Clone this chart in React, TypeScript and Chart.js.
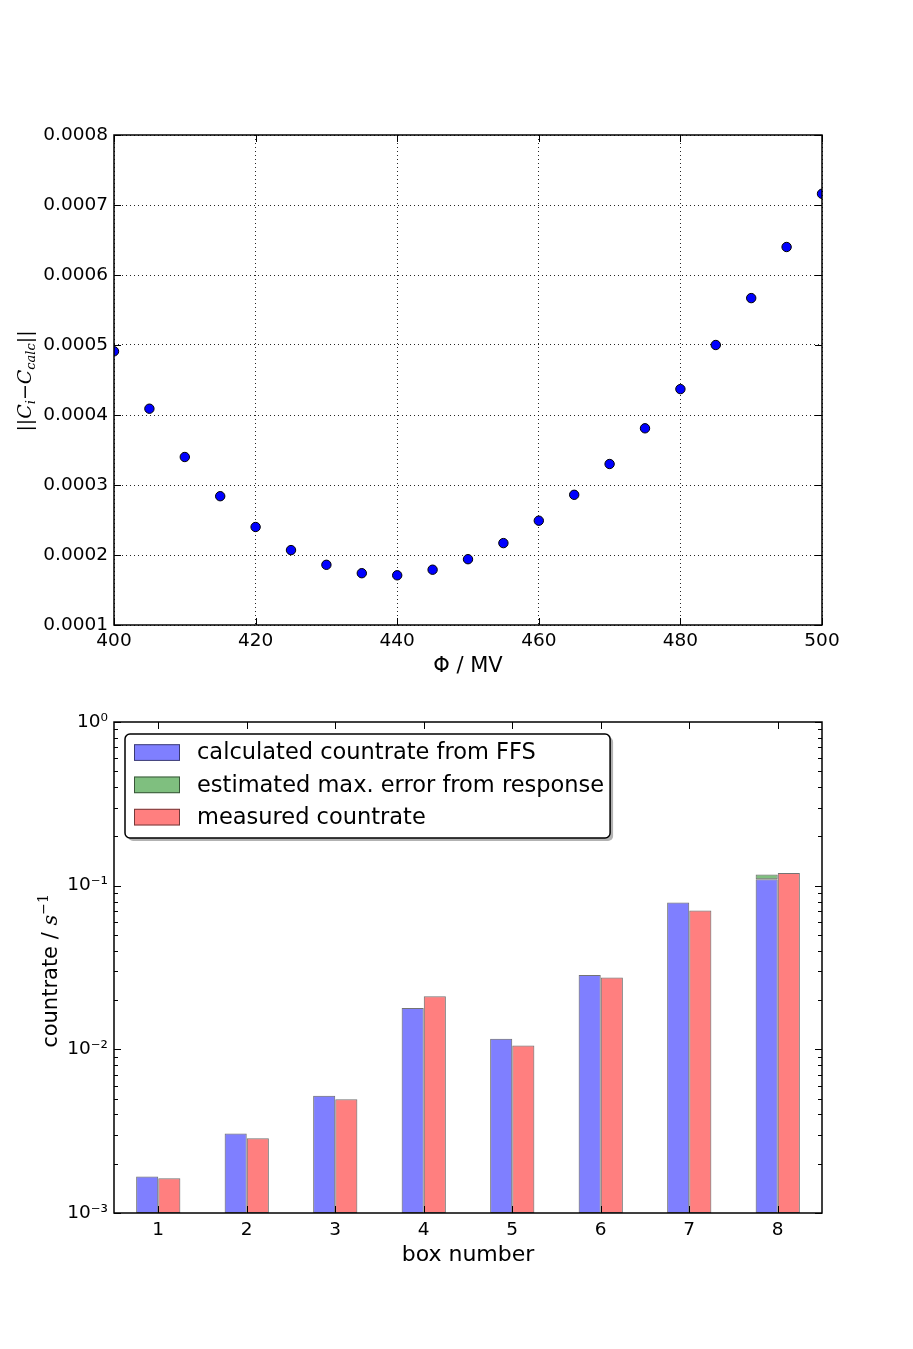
import React, { useEffect, useRef } from "react";
import { Chart, registerables } from "chart.js";

Chart.register(...registerables);

const FONT = '"DejaVu Sans", sans-serif';
const SERIF = '"DejaVu Serif", serif';

// ---------- top chart data ----------
const phiValues = [400, 405, 410, 415, 420, 425, 430, 435, 440, 445, 450, 455, 460, 465, 470, 475, 480, 485, 490, 495, 500];
const residualNorm = [
  0.000491, 0.000409, 0.00034, 0.000284, 0.00024, 0.000207, 0.000186, 0.000174, 0.000171, 0.000179,
  0.000194, 0.000217, 0.000249, 0.000286, 0.00033, 0.000381, 0.000437, 0.0005, 0.000567, 0.00064, 0.000716,
];
const phiTicks = [400, 420, 440, 460, 480, 500];
const residualTicks = [0.0001, 0.0002, 0.0003, 0.0004, 0.0005, 0.0006, 0.0007, 0.0008];

// ---------- bottom chart data ----------
const boxNumbers = ["1", "2", "3", "4", "5", "6", "7", "8"];
const calculatedRate = [0.00167, 0.00306, 0.0052, 0.0179, 0.0116, 0.0285, 0.079, 0.1095];
const responseError = [null, null, null, null, null, null, null, 0.0075];
const measuredRate = [0.00163, 0.00286, 0.00496, 0.0211, 0.01055, 0.0275, 0.0705, 0.1195];
const rateTickValues = [0.001, 0.01, 0.1, 1];
const rateTickLabels = ["10⁻³", "10⁻²", "10⁻¹", "10⁰"];
const rateDecades = [0.001, 0.01, 0.1];
const minorMultipliers = [2, 3, 4, 5, 6, 7, 8, 9];

const legendLabels = [
  "calculated countrate from FFS",
  "estimated max. error from response",
  "measured countrate",
];

const BLUE = "rgba(0,0,255,0.5)";
const GREEN = "rgba(0,128,0,0.5)";
const RED = "rgba(255,0,0,0.5)";
const EDGE = "rgba(0,0,0,0.55)";

Chart.defaults.color = "#000";
Chart.defaults.font.family = FONT;

type Seg = { text: string; font: string; dy?: number };

function drawRotatedSegments(ctx: CanvasRenderingContext2D, segs: Seg[], x: number, y: number) {
  ctx.save();
  ctx.translate(x, y);
  ctx.rotate(-Math.PI / 2);
  let total = 0;
  const widths = segs.map((s) => {
    ctx.font = s.font;
    const w = ctx.measureText(s.text).width;
    total += w;
    return w;
  });
  let cx = -total / 2;
  ctx.textBaseline = "alphabetic";
  ctx.textAlign = "left";
  ctx.fillStyle = "#000";
  segs.forEach((s, i) => {
    ctx.font = s.font;
    ctx.fillText(s.text, cx, s.dy || 0);
    cx += widths[i];
  });
  ctx.restore();
}

const framePlugin = {
  id: "frame",
  afterDraw(chart: any, _args: any, opts: any) {
    const { ctx, chartArea: a } = chart;
    const xs = chart.scales.x;
    const ys = chart.scales.y;
    const major = 7;
    const minor = 4;
    ctx.save();
    ctx.strokeStyle = "#000";
    ctx.lineWidth = 1;
    ctx.beginPath();
    xs.ticks.forEach((_t: any, i: number) => {
      const px = Math.round(xs.getPixelForTick(i)) + 0.5;
      ctx.moveTo(px, a.bottom);
      ctx.lineTo(px, a.bottom - major);
      ctx.moveTo(px, a.top);
      ctx.lineTo(px, a.top + major);
    });
    ys.ticks.forEach((_t: any, i: number) => {
      const py = Math.round(ys.getPixelForTick(i)) + 0.5;
      ctx.moveTo(a.left, py);
      ctx.lineTo(a.left + major, py);
      ctx.moveTo(a.right, py);
      ctx.lineTo(a.right - major, py);
    });
    (opts.yMinor || []).forEach((v: number) => {
      const py = Math.round(ys.getPixelForValue(v)) + 0.5;
      ctx.moveTo(a.left, py);
      ctx.lineTo(a.left + minor, py);
      ctx.moveTo(a.right, py);
      ctx.lineTo(a.right - minor, py);
    });
    ctx.stroke();
    ctx.lineWidth = 1.5;
    ctx.strokeRect(a.left, a.top, a.right - a.left, a.bottom - a.top);
    ctx.restore();
  },
};

const yTitlePlugin = {
  id: "yTitle",
  afterDraw(chart: any, _args: any, opts: any) {
    if (!opts || !opts.segs) return;
    drawRotatedSegments(chart.ctx, opts.segs, opts.x, opts.y);
  },
};

const boxLegendPlugin = {
  id: "boxLegend",
  afterDraw(chart: any, _args: any, opts: any) {
    if (!opts || !opts.items) return;
    const { ctx, chartArea: a } = chart;
    const items = opts.items as { label: string; color: string }[];
    ctx.save();
    ctx.font = `${opts.fontSize}px ${FONT}`;
    const maxW = Math.max(...items.map((it) => ctx.measureText(it.label).width));
    const x = a.left + 11;
    const y = a.top + 12;
    const w = 72 + maxW + 6;
    const h = 104;
    ctx.fillStyle = "rgba(0,0,0,0.3)";
    ctx.beginPath();
    ctx.roundRect(x + 3, y + 3, w, h, 5);
    ctx.fill();
    ctx.fillStyle = "#fff";
    ctx.beginPath();
    ctx.roundRect(x, y, w, h, 5);
    ctx.fill();
    ctx.lineWidth = 1.5;
    ctx.strokeStyle = "#000";
    ctx.stroke();
    items.forEach((it, i) => {
      const cy = y + 18.5 + i * 32.3;
      ctx.fillStyle = it.color;
      ctx.fillRect(x + 9, cy - 8.3, 46, 16.7);
      ctx.strokeStyle = EDGE;
      ctx.lineWidth = 1;
      ctx.strokeRect(x + 9.5, cy - 7.8, 45, 15.7);
      ctx.fillStyle = "#000";
      ctx.textBaseline = "middle";
      ctx.textAlign = "left";
      ctx.fillText(it.label, x + 72, cy + 1);
    });
    ctx.restore();
  },
};

function TopChart() {
  const ref = useRef<HTMLCanvasElement>(null);
  useEffect(() => {
    if (!ref.current) return;
    const tickFont = { family: FONT, size: 18.5 };
    const chart = new Chart(ref.current, {
      type: "scatter",
      data: {
        datasets: [
          {
            data: phiValues.map((x, i) => ({ x, y: residualNorm[i] })),
            pointRadius: 4.7,
            pointBackgroundColor: "#0000ff",
            pointBorderColor: "#000",
            pointBorderWidth: 1,
            clip: 0,
          } as any,
        ],
      },
      options: {
        animation: false,
        responsive: false,
        devicePixelRatio: 1,
        layout: { padding: { top: 35, right: 91, left: 0, bottom: 0 } },
        plugins: {
          legend: { display: false },
          tooltip: { enabled: false },
          frame: {},
          yTitle: {
            x: 31,
            y: 281,
            segs: [
              { text: "||", font: `19px ${SERIF}` },
              { text: "C", font: `italic 19px ${SERIF}` },
              { text: "i", font: `italic 13px ${SERIF}`, dy: 4 },
              { text: "−", font: `19px ${SERIF}` },
              { text: "C", font: `italic 19px ${SERIF}` },
              { text: "calc", font: `italic 13px ${SERIF}`, dy: 4 },
              { text: "||", font: `19px ${SERIF}` },
            ],
          },
        } as any,
        scales: {
          x: {
            type: "linear",
            min: 400,
            max: 500,
            afterBuildTicks: (s: any) => {
              s.ticks = phiTicks.map((v) => ({ value: v }));
            },
            afterFit: (s: any) => {
              s.height = 75;
            },
            ticks: { font: tickFont, color: "#000", padding: 5, maxRotation: 0 },
            grid: { color: "rgba(0,0,0,0.85)", lineWidth: 1, drawTicks: false },
            border: { display: false, dash: [1, 3] },
            title: {
              display: true,
              text: "Φ / MV",
              font: { family: FONT, size: 21 },
              color: "#000",
              padding: { top: 0, bottom: 21 },
            },
          },
          y: {
            type: "linear",
            min: 0.0001,
            max: 0.0008,
            afterBuildTicks: (s: any) => {
              s.ticks = residualTicks.map((v) => ({ value: v }));
            },
            afterFit: (s: any) => {
              s.width = 114;
            },
            ticks: {
              font: tickFont,
              color: "#000",
              padding: 6,
              callback: (v: any) => Number(v).toFixed(4),
            },
            grid: { color: "rgba(0,0,0,0.85)", lineWidth: 1, drawTicks: false },
            border: { display: false, dash: [1, 3] },
          },
        },
      },
      plugins: [framePlugin, yTitlePlugin],
    });
    return () => chart.destroy();
  }, []);
  return (
    <canvas
      ref={ref}
      width={913}
      height={600}
      style={{ position: "absolute", left: 0, top: 100, width: 913, height: 600 }}
    />
  );
}

function BottomChart() {
  const ref = useRef<HTMLCanvasElement>(null);
  useEffect(() => {
    if (!ref.current) return;
    const tickFont = { family: FONT, size: 18.5 };
    const minor: number[] = [];
    rateDecades.forEach((d) => minorMultipliers.forEach((m) => minor.push(d * m)));
    const barCommon = {
      borderColor: EDGE,
      borderWidth: 1,
      borderSkipped: false,
      categoryPercentage: 0.5,
      barPercentage: 1,
    };
    const chart = new Chart(ref.current, {
      type: "bar",
      data: {
        labels: boxNumbers,
        datasets: [
          { label: legendLabels[0], data: calculatedRate, backgroundColor: BLUE, stack: "calc", ...barCommon } as any,
          { label: legendLabels[1], data: responseError as any, backgroundColor: GREEN, stack: "calc", ...barCommon } as any,
          { label: legendLabels[2], data: measuredRate, backgroundColor: RED, stack: "meas", ...barCommon } as any,
        ],
      },
      options: {
        animation: false,
        responsive: false,
        devicePixelRatio: 1,
        layout: { padding: { top: 32, right: 91, left: 0, bottom: 0 } },
        plugins: {
          legend: { display: false },
          tooltip: { enabled: false },
          frame: { yMinor: minor },
          yTitle: {
            x: 57,
            y: 281,
            segs: [
              { text: "countrate / ", font: `21px ${FONT}` },
              { text: "s", font: `italic 21px ${SERIF}` },
              { text: "−1", font: `14px ${SERIF}`, dy: -9 },
            ],
          },
          boxLegend: {
            fontSize: 22.5,
            items: [
              { label: legendLabels[0], color: BLUE },
              { label: legendLabels[1], color: GREEN },
              { label: legendLabels[2], color: RED },
            ],
          },
        } as any,
        scales: {
          x: {
            type: "category",
            afterFit: (s: any) => {
              s.height = 87;
            },
            ticks: { font: tickFont, color: "#000", padding: 6, maxRotation: 0 },
            grid: { display: false, drawTicks: false },
            border: { display: false },
            title: {
              display: true,
              text: "box number",
              font: { family: FONT, size: 22 },
              color: "#000",
              padding: { top: 0, bottom: 32 },
            },
          },
          y: {
            type: "logarithmic",
            min: 0.001,
            max: 1,
            afterBuildTicks: (s: any) => {
              s.ticks = rateTickValues.map((v) => ({ value: v }));
            },
            afterFit: (s: any) => {
              s.width = 114;
            },
            ticks: {
              font: tickFont,
              color: "#000",
              padding: 6,
              callback: (v: any) => {
                const idx = rateTickValues.findIndex((t) => Math.abs(t - Number(v)) < t * 1e-6);
                return idx >= 0 ? rateTickLabels[idx] : "";
              },
            },
            grid: { display: false, drawTicks: false },
            border: { display: false },
          },
        },
      },
      plugins: [framePlugin, yTitlePlugin, boxLegendPlugin],
    });
    return () => chart.destroy();
  }, []);
  return (
    <canvas
      ref={ref}
      width={913}
      height={610}
      style={{ position: "absolute", left: 0, top: 690, width: 913, height: 610 }}
    />
  );
}

export default function App() {
  return (
    <div
      style={{
        position: "absolute",
        left: 0,
        top: 0,
        width: 913,
        height: 1349,
        background: "#fff",
        overflow: "hidden",
      }}
    >
      <TopChart />
      <BottomChart />
    </div>
  );
}
